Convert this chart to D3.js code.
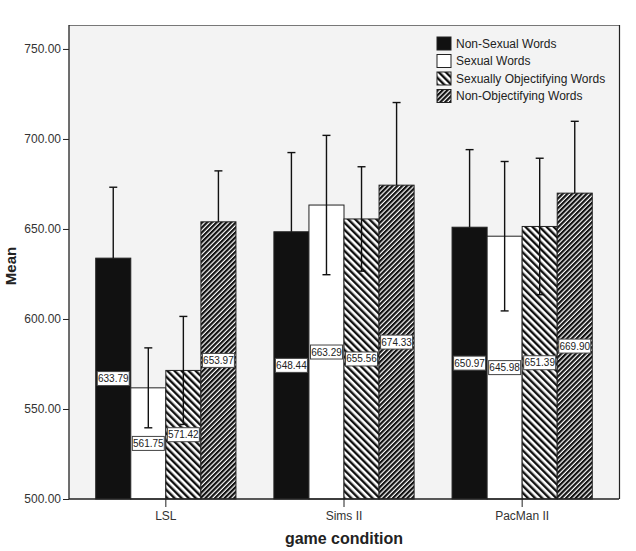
<!DOCTYPE html>
<html>
<head>
<meta charset="utf-8">
<script src="https://cdn.jsdelivr.net/npm/d3@7"></script>
<style>
  body { margin: 0; background: #fff; }
  svg { display: block; font-family: "Liberation Sans", Arial, sans-serif; }
</style>
</head>
<body>
<svg id="chart" width="636" height="551"></svg>
<script>
// Mean reaction times by game condition and word type

const conditions = ['LSL', 'Sims II', 'PacMan II'];
const wordTypes = ['Non-Sexual Words', 'Sexual Words', 'Sexually Objectifying Words', 'Non-Objectifying Words'];

// means per condition, in wordTypes order
const means = [
  [633.79, 561.75, 571.42, 653.97],
  [648.44, 663.29, 655.56, 674.33],
  [650.97, 645.98, 651.39, 669.90]
];

// half-width of the error bars
const errors = [
  [39.4, 22.2, 30.0, 28.3],
  [44.0, 38.7, 29.0, 45.9],
  [43.1, 41.5, 37.9, 39.9]
];

// lower whisker gets lost in the dark fills, so only show it on the light ones
const showLower = [false, true, true, false];

const yTicks = [500, 550, 600, 650, 700, 750];

const width = 636, height = 551;
const margin = { top: 25, right: 17, bottom: 52, left: 69 };

const svg = d3.select('#chart');

// Hatch patterns
const defs = svg.append('defs');

function addHatch(id, size, lineW, angle) {
  const p = defs.append('pattern')
    .attr('id', id)
    .attr('patternUnits', 'userSpaceOnUse')
    .attr('width', size)
    .attr('height', size)
    .attr('patternTransform', `rotate(${angle})`);
  p.append('rect').attr('width', size).attr('height', size).attr('fill', '#fff');
  p.append('rect').attr('x', 0).attr('width', lineW).attr('height', size).attr('fill', '#111');
}
addHatch('hatch-back', 5, 2.4, -45);
addHatch('hatch-fwd', 3.4, 2.2, 45);

const fills = ['#111', '#fff', 'url(#hatch-back)', 'url(#hatch-fwd)'];

// Scales
const x = d3.scaleBand()
  .domain(conditions)
  .range([margin.left, width - margin.right])
  .paddingInner(0.213)
  .paddingOuter(0.15);

const xSub = d3.scaleBand()
  .domain(wordTypes)
  .range([0, x.bandwidth()]);

const y = d3.scaleLinear()
  .domain([500, 763.3])
  .range([height - margin.bottom, margin.top]);

// Plot background and frame
const plotW = width - margin.left - margin.right;
const plotH = height - margin.top - margin.bottom;
svg.append('rect')
  .attr('x', margin.left).attr('y', margin.top)
  .attr('width', plotW).attr('height', plotH)
  .attr('fill', '#f3f3f3');
svg.append('line')
  .attr('x1', margin.left).attr('x2', width - margin.right)
  .attr('y1', margin.top + 0.5).attr('y2', margin.top + 0.5)
  .attr('stroke', '#777').attr('stroke-width', 1.2);
svg.append('line')
  .attr('x1', width - margin.right + 0.5).attr('x2', width - margin.right + 0.5)
  .attr('y1', margin.top).attr('y2', height - margin.bottom)
  .attr('stroke', '#222').attr('stroke-width', 1.2);

// Bars
const rows = [];
conditions.forEach((c, i) => {
  wordTypes.forEach((w, j) => {
    rows.push({ cond: c, type: w, j: j, mean: means[i][j], err: errors[i][j] });
  });
});

const barX = d => x(d.cond) + xSub(d.type);

svg.append('g')
  .selectAll('rect')
  .data(rows)
  .join('rect')
  .attr('x', barX)
  .attr('y', d => y(d.mean))
  .attr('width', xSub.bandwidth())
  .attr('height', d => y(500) - y(d.mean))
  .attr('fill', d => fills[d.j])
  .attr('stroke', '#222')
  .attr('stroke-width', 1);

// Error bars
const eb = svg.append('g')
  .selectAll('g')
  .data(rows)
  .join('g')
  .attr('stroke', '#111')
  .attr('stroke-width', 1.4);

const cx = d => barX(d) + xSub.bandwidth() / 2;
eb.append('line')
  .attr('x1', cx).attr('x2', cx)
  .attr('y1', d => y(showLower[d.j] ? d.mean - d.err : d.mean))
  .attr('y2', d => y(d.mean + d.err));
eb.append('line')
  .attr('x1', d => cx(d) - 4).attr('x2', d => cx(d) + 4)
  .attr('y1', d => y(d.mean + d.err)).attr('y2', d => y(d.mean + d.err));
eb.filter(d => showLower[d.j]).append('line')
  .attr('x1', d => cx(d) - 4).attr('x2', d => cx(d) + 4)
  .attr('y1', d => y(d.mean - d.err)).attr('y2', d => y(d.mean - d.err));

// Value labels at bar mid-height
const lab = svg.append('g')
  .selectAll('g')
  .data(rows)
  .join('g')
  .attr('transform', d => `translate(${cx(d)},${(y(d.mean) + y(500)) / 2})`);

lab.append('rect')
  .attr('x', -16).attr('y', -7)
  .attr('width', 32).attr('height', 14)
  .attr('fill', '#fff')
  .attr('stroke', '#444')
  .attr('stroke-width', 1);

lab.append('text')
  .attr('text-anchor', 'middle')
  .attr('dy', '0.35em')
  .attr('font-size', 10)
  .attr('fill', '#222')
  .text(d => d.mean.toFixed(2));

// Y axis
const yAxis = svg.append('g')
  .attr('transform', `translate(${margin.left},0)`)
  .call(d3.axisLeft(y).tickValues(yTicks).tickFormat(d3.format('.2f')).tickSize(6).tickPadding(2));
yAxis.select('.domain').remove();
yAxis.selectAll('line').attr('stroke', '#222');
yAxis.selectAll('text').attr('font-size', 12).attr('fill', '#333')
  .style('font-family', '"Liberation Sans", Arial, sans-serif');
svg.append('line')
  .attr('x1', margin.left).attr('x2', margin.left)
  .attr('y1', margin.top).attr('y2', height - margin.bottom)
  .attr('stroke', '#222').attr('stroke-width', 1.3);

// X axis
const xAxis = svg.append('g')
  .attr('transform', `translate(0,${height - margin.bottom})`)
  .call(d3.axisBottom(x).tickSize(8).tickPadding(4));
xAxis.select('.domain').remove();
xAxis.selectAll('line').attr('stroke', '#222');
xAxis.selectAll('text').attr('font-size', 12).attr('fill', '#333')
  .style('font-family', '"Liberation Sans", Arial, sans-serif');
svg.append('line')
  .attr('x1', margin.left).attr('x2', width - margin.right)
  .attr('y1', height - margin.bottom).attr('y2', height - margin.bottom)
  .attr('stroke', '#222').attr('stroke-width', 1.3);

// Axis titles
svg.append('text')
  .attr('x', margin.left + plotW / 2)
  .attr('y', 544)
  .attr('text-anchor', 'middle')
  .attr('font-size', 16)
  .attr('font-weight', 'bold')
  .attr('fill', '#222')
  .text('game condition');

svg.append('text')
  .attr('transform', `translate(16,${margin.top + plotH / 2 + 4}) rotate(-90)`)
  .attr('text-anchor', 'middle')
  .attr('font-size', 15)
  .attr('font-weight', 'bold')
  .attr('fill', '#222')
  .text('Mean');

// Legend
const legend = svg.append('g')
  .attr('transform', 'translate(437,37)');

const li = legend.selectAll('g')
  .data(wordTypes)
  .join('g')
  .attr('transform', (d, i) => `translate(0,${i * 17.5})`);

li.append('rect')
  .attr('width', 14).attr('height', 13)
  .attr('fill', (d, i) => fills[i])
  .attr('stroke', '#222')
  .attr('stroke-width', 1);

li.append('text')
  .attr('x', 19)
  .attr('y', 6.5)
  .attr('dy', '0.35em')
  .attr('font-size', 12)
  .attr('fill', '#222')
  .text(d => d);
</script>
</body>
</html>
